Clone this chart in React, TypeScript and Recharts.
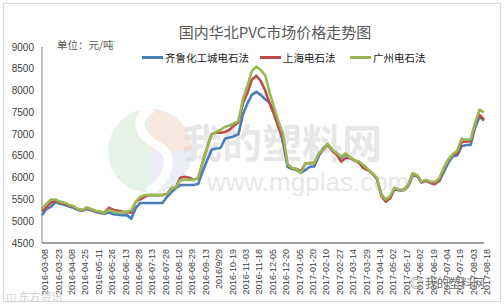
import { LineChart, Line, XAxis, YAxis } from "recharts";

const tickLabels = [
  "2016-03-08", "2016-03-23", "2016-04-08", "2016-04-25", "2016-05-11",
  "2016-05-26", "2016-06-13", "2016-06-28", "2016-07-13", "2016-07-28",
  "2016-08-12", "2016-08-29", "2016-09-13", "2016/9/29", "2016-10-19",
  "2016-11-03", "2016-11-18", "2016-12-05", "2016-12-20", "2017-01-05",
  "2017-01-20", "2017-02-10", "2017-02-27", "2017-03-14", "2017-03-29",
  "2017-04-14", "2017-05-02", "2017-05-17", "2017-06-02", "2017-06-19",
  "2017-07-04", "2017-07-19", "2017-08-03", "2017-08-18",
];

// three readings between neighbouring date labels
const pointsPerLabel = 3;

const yTicks = [4500, 5000, 5500, 6000, 6500, 7000, 7500, 8000, 8500, 9000];

const qilu = [
  5140, 5280, 5330, 5440, 5400, 5380, 5340, 5310, 5260, 5240,
  5280, 5250, 5210, 5190, 5170, 5200, 5160, 5150, 5140, 5140,
  5060, 5300, 5420, 5420, 5420, 5420, 5420, 5420, 5560, 5670,
  5760, 5830, 5830, 5830, 5830, 5860, 6150, 6400, 6640, 6670,
  6680, 6900, 6920, 6950, 7000, 7450, 7700, 7900, 7970, 7900,
  7800, 7720, 7480, 7210, 6800, 6250, 6200, 6180, 6110, 6180,
  6250, 6260, 6500, 6680, 6770, 6630, 6560, 6460, 6540, 6460,
  6390, 6360, 6270, 6180, 6090, 5980, 5620, 5490, 5550, 5740,
  5710, 5710, 5800, 6050, 6040, 5890, 5930, 5890, 5870, 5920,
  6130, 6340, 6490, 6510, 6720, 6750, 6750, 7150, 7400, 7310,
];

const shanghai = [
  5220, 5330, 5430, 5470, 5430, 5400, 5360, 5330, 5280, 5250,
  5300, 5270, 5230, 5210, 5200, 5310, 5260, 5240, 5220, 5200,
  5200, 5450, 5500, 5560, 5600, 5600, 5600, 5600, 5620, 5760,
  5780, 6000, 6020, 6000, 5950, 5990, 6350, 6700, 7000, 7030,
  7030, 7050, 7100, 7200, 7270, 7700, 7950, 8250, 8340, 8220,
  8000, 7700, 7450, 7150, 6900, 6300, 6220, 6200, 6150, 6320,
  6330, 6330, 6550, 6640, 6760, 6620, 6530, 6370, 6450, 6450,
  6400, 6340, 6220, 6170, 6100, 5980, 5580, 5450, 5530, 5760,
  5710, 5720, 5820, 6080, 6050, 5900, 5940, 5880, 5850, 5950,
  6200, 6400, 6520, 6560, 6820, 6830, 6830, 7250, 7440, 7330,
];

const guangzhou = [
  5280, 5400, 5500, 5500, 5450, 5430, 5380, 5350, 5280, 5260,
  5320, 5280, 5240, 5220, 5200, 5260, 5220, 5200, 5200, 5220,
  5250, 5450, 5560, 5600, 5600, 5600, 5600, 5600, 5620, 5760,
  5780, 5940, 5950, 5950, 5950, 6000, 6350, 6700, 6980, 7050,
  7100, 7170, 7200, 7250, 7300, 7800, 8100, 8450, 8550, 8470,
  8350, 7950, 7600, 7280, 7000, 6300, 6220, 6200, 6110, 6330,
  6340, 6340, 6560, 6650, 6780, 6640, 6570, 6480, 6560, 6470,
  6400, 6370, 6290, 6200, 6100, 6000, 5600, 5500, 5580, 5770,
  5720, 5720, 5830, 6100, 6060, 5910, 5950, 5910, 5900, 5990,
  6230, 6420, 6540, 6620, 6900, 6870, 6880, 7250, 7560, 7500,
];

const series = [
  { key: "qilu", name: "齐鲁化工城电石法", color: "#4a7ebb" },
  { key: "shanghai", name: "上海电石法", color: "#be4b48" },
  { key: "guangzhou", name: "广州电石法", color: "#98b954" },
];

const data = qilu.map((v, i) => ({
  i,
  qilu: v,
  shanghai: shanghai[i],
  guangzhou: guangzhou[i],
}));

const xTicks = tickLabels.map((_, j) => j * pointsPerLabel);

function DateTick({ x, y, payload }: any) {
  const label = tickLabels[Math.round(payload.value / pointsPerLabel)];
  const tx = x + 3;
  const ty = y - 2;
  return (
    <text
      x={tx}
      y={ty}
      transform={`rotate(-90, ${tx}, ${ty})`}
      textAnchor="end"
      dy="0.35em"
      fontSize={9}
      fill="#404040"
      fontFamily="'Liberation Sans', Arial, sans-serif"
    >
      {label}
    </text>
  );
}

function Watermark() {
  return (
    <svg
      width={504}
      height={305}
      style={{ position: "absolute", left: 0, top: 0 }}
    >
      <text
        x={182}
        y={158}
        fontSize={40}
        fontWeight="bold"
        fill="#d4d4d4"
        opacity={0.55}
        fontFamily="'Noto Sans CJK SC', sans-serif"
      >
        我的塑料网
      </text>
      <text
        x={207}
        y={191}
        fontSize={26}
        fill="#d4d4d4"
        opacity={0.55}
        fontFamily="'Liberation Sans', Arial, sans-serif"
      >
        www.mgplas.com
      </text>
      <g opacity={0.5}>
        <circle cx={150} cy={151} r={42} fill="#cfe5d2" />
        <path d="M150 109 A42 42 0 0 1 192 151 L150 151 Z" fill="#f4d3c0" />
        <path d="M192 151 A42 42 0 0 1 150 193 L150 151 Z" fill="#d6dcef" />
        <path
          d="M152 108 C130 120 142 138 158 146 C174 154 172 176 148 193"
          stroke="#ffffff"
          strokeWidth={9}
          fill="none"
        />
      </g>
    </svg>
  );
}

function SeriesLegend() {
  const spots = [142, 260, 350];
  return (
    <>
      {series.map((s, idx) => (
        <div
          key={s.key}
          style={{
            position: "absolute",
            left: spots[idx],
            top: 50,
            display: "flex",
            alignItems: "center",
            height: 14,
            fontSize: 10.5,
            color: "#1a1a1a",
            whiteSpace: "nowrap",
          }}
        >
          <span
            style={{
              display: "inline-block",
              width: 21,
              height: 3,
              background: s.color,
              marginRight: 2,
            }}
          />
          {s.name}
        </div>
      ))}
    </>
  );
}

export default function App() {
  return (
    <div
      style={{
        position: "absolute",
        left: 0,
        top: 0,
        width: 504,
        height: 305,
        background: "#ffffff",
        overflow: "hidden",
        fontFamily: "'Noto Sans CJK SC', sans-serif",
      }}
    >
      <div
        style={{
          position: "absolute",
          left: 3,
          top: 3,
          width: 496,
          height: 297,
          border: "1px solid #d9d9d9",
        }}
      />
      <Watermark />
      <div style={{ position: "absolute", left: 0, top: 0 }}>
        <LineChart
          width={504}
          height={305}
          data={data}
          margin={{ top: 47, right: 20, bottom: 0, left: 0 }}
        >
          <XAxis
            type="number"
            dataKey="i"
            domain={[0, qilu.length - 1]}
            ticks={xTicks}
            interval={0}
            tick={<DateTick />}
            tickLine={false}
            axisLine={{ stroke: "#404040" }}
            height={62}
          />
          <YAxis
            domain={[4500, 9000]}
            ticks={yTicks}
            interval={0}
            width={42}
            tickLine={false}
            axisLine={{ stroke: "#7f7f7f" }}
            tick={{
              fontSize: 10,
              fill: "#404040",
              fontFamily: "'Liberation Sans', Arial, sans-serif",
            }}
          />
          {series.map((s) => (
            <Line
              key={s.key}
              type="linear"
              dataKey={s.key}
              name={s.name}
              stroke={s.color}
              strokeWidth={2.6}
              strokeLinejoin="round"
              dot={false}
              activeDot={false}
              isAnimationActive={false}
            />
          ))}
        </LineChart>
      </div>
      <div
        style={{
          position: "absolute",
          left: 0,
          width: 550,
          top: 21,
          textAlign: "center",
          fontSize: 15,
          color: "#595959",
          whiteSpace: "nowrap",
        }}
      >
        国内华北PVC市场价格走势图
      </div>
      <div
        style={{
          position: "absolute",
          left: 57,
          top: 37,
          fontSize: 10.5,
          color: "#595959",
          whiteSpace: "nowrap",
        }}
      >
        单位：元/吨
      </div>
      <SeriesLegend />
      <div
        style={{
          position: "absolute",
          left: 6,
          top: 288,
          fontSize: 11,
          color: "#d0d0d0",
          whiteSpace: "nowrap",
        }}
      >
        ◫ 东方资讯
      </div>
      <div
        style={{
          position: "absolute",
          left: 410,
          top: 274,
          fontSize: 12,
          color: "#6a6a6a",
          whiteSpace: "nowrap",
          textShadow: "0 0 2px #fff",
        }}
      >
        ◎ 我的塑料网
      </div>
    </div>
  );
}
